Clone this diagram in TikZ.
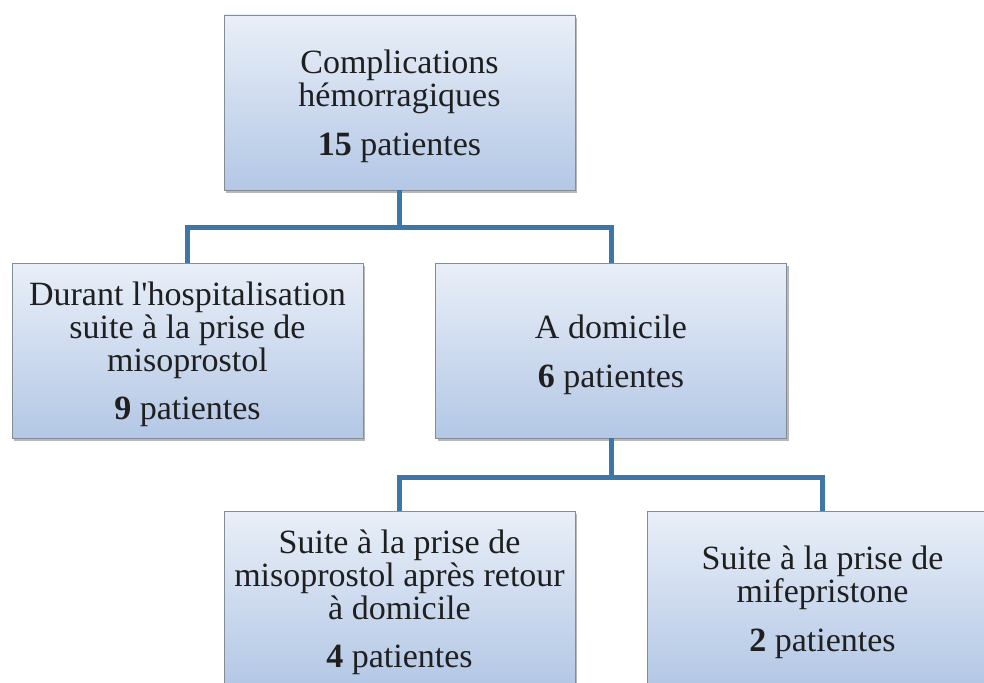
\documentclass[tikz,border=0pt]{standalone}
\usepackage{fontspec}
\setmainfont{Liberation Serif}
\usetikzlibrary{shadows}
\definecolor{boxtop}{HTML}{E9EFF8}
\definecolor{boxbot}{HTML}{B3C7E5}
\definecolor{boxline}{HTML}{848C96}
\definecolor{connblue}{HTML}{3F76A8}
\tikzset{
  orgbox/.style={draw=boxline, line width=0.8pt, top color=boxtop, bottom color=boxbot,
    minimum width=351pt, minimum height=175pt, inner sep=0pt,
    drop shadow={shadow xshift=2pt, shadow yshift=-3pt, fill=black, opacity=0.28}},
  boxtext/.style={inner sep=0pt, align=center, yshift=-4pt,
    font=\fontsize{34}{32.8}\selectfont, text=black!88},
  conn/.style={draw=connblue, line width=5pt}
}
\begin{document}
\begin{tikzpicture}[x=1pt,y=-1pt]
\useasboundingbox (0,0) rectangle (984,682);
\node[orgbox] (top) at (399.5,102.5) {};
\node[orgbox] (left) at (187.5,350.5) {};
\node[orgbox] (mid) at (611,350.5) {};
\node[orgbox] (bl) at (399.5,598.5) {};
\node[orgbox] (br) at (822.5,598.5) {};
\node[boxtext] (topt) at (top.center) {Complications\\hémorragiques\\[16pt]\textbf{15} patientes};
\node[boxtext] (leftt) at (left.center) {Durant l\textquotesingle hospitalisation\\suite à la prise de\\misoprostol\\[16pt]\textbf{9} patientes};
\node[boxtext] (midt) at (mid.center) {A domicile\\[16pt]\textbf{6} patientes};
\node[boxtext] (blt) at (bl.center) {Suite à la prise de\\misoprostol après retour\\à domicile\\[16pt]\textbf{4} patientes};
\node[boxtext] (brt) at (br.center) {Suite à la prise de\\mifepristone\\[16pt]\textbf{2} patientes};
\coordinate (j1) at (399.5,227);
\coordinate (j2) at (611,477);
\draw[conn] (top.south) -- (j1) -| (left.north);
\draw[conn] (j1) -| (mid.north);
\draw[conn] (mid.south) -- (j2) -| (bl.north);
\draw[conn] (j2) -| (br.north);
\end{tikzpicture}
\end{document}
